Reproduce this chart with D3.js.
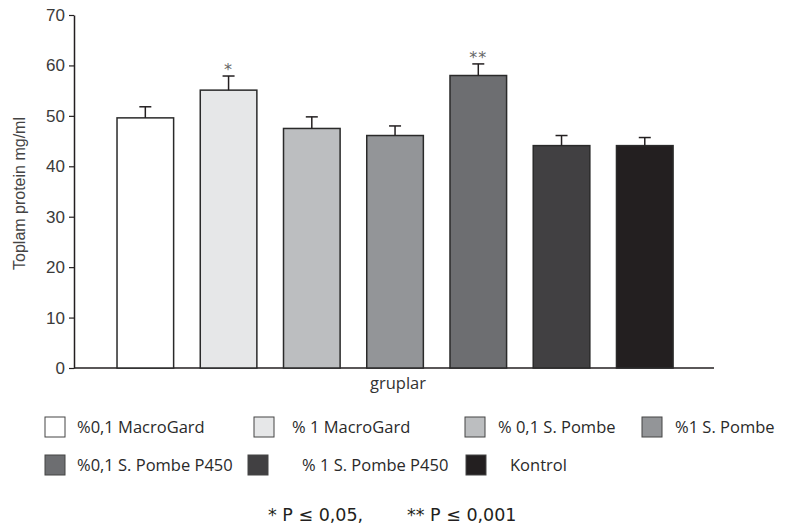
<!DOCTYPE html>
<html>
<head>
<meta charset="utf-8">
<script src="https://cdn.jsdelivr.net/npm/d3@7"></script>
<style>
  body { margin: 0; background: #fff; }
  svg { display: block; }
</style>
</head>
<body>
<div id="chart"></div>
<script>
// groups, values (mean total protein, mg/ml) and error (SEM)
const groups = ["%0,1 MacroGard", "% 1 MacroGard", "% 0,1 S. Pombe", "%1 S. Pombe",
                "%0,1 S. Pombe P450", "% 1 S. Pombe P450", "Kontrol"];
const values = [49.6, 55.1, 47.5, 46.1, 58.0, 44.1, 44.1];
const errors = [2.2, 2.8, 2.3, 1.9, 2.3, 2.0, 1.6];
const stars = ["", "*", "", "", "**", "", ""];
const colors = ["#ffffff", "#e6e7e8", "#bcbec0", "#939598", "#6d6e71", "#414042", "#231f20"];
const yTicks = [0, 10, 20, 30, 40, 50, 60, 70];

const width = 785, height = 526;
const svg = d3.select("#chart").append("svg")
    .attr("width", width)
    .attr("height", height);

const axisLeftX = 74, axisRightX = 714;
const y = d3.scaleLinear().domain([0, 70]).range([368, 15]);
const x = d3.scaleBand()
    .domain(groups)
    .range([103.7, 686.4])
    .paddingInner(0.32)
    .paddingOuter(0.16);

// Y axis
const yAxis = svg.append("g")
    .attr("transform", `translate(${axisLeftX},0)`)
    .call(d3.axisLeft(y).tickValues(yTicks).tickSize(5).tickPadding(4).tickSizeOuter(0));
yAxis.select(".domain").attr("stroke", "#231f20").attr("stroke-width", 1.5);
yAxis.selectAll(".tick line").attr("stroke", "#231f20").attr("stroke-width", 1.2);
yAxis.selectAll(".tick text")
    .attr("fill", "#3a3a3a")
    .style("font-family", "'Liberation Sans', Arial, sans-serif")
    .style("font-size", "17px");

// X axis baseline
svg.append("line")
    .attr("x1", axisLeftX).attr("x2", axisRightX)
    .attr("y1", y(0)).attr("y2", y(0))
    .attr("stroke", "#231f20").attr("stroke-width", 1.5);

// Axis titles
svg.append("text")
    .attr("transform", `translate(25,${(y(0) + y(70)) / 2 + 2}) rotate(-90)`)
    .attr("text-anchor", "middle")
    .attr("fill", "#444")
    .style("font-family", "'Liberation Sans', Arial, sans-serif")
    .style("font-size", "16px")
    .text("Toplam protein mg/ml");

svg.append("text")
    .attr("x", 398).attr("y", 389)
    .attr("text-anchor", "middle")
    .attr("fill", "#333")
    .style("font-family", "'Open Sans', sans-serif")
    .style("font-size", "16.5px")
    .text("gruplar");

// Bars
const data = groups.map((g, i) => ({ g, v: values[i], e: errors[i], s: stars[i], c: colors[i] }));

svg.selectAll("rect.bar")
    .data(data)
    .join("rect")
    .attr("class", "bar")
    .attr("x", d => x(d.g))
    .attr("y", d => y(d.v))
    .attr("width", x.bandwidth())
    .attr("height", d => y(0) - y(d.v))
    .attr("fill", d => d.c)
    .attr("stroke", "#2a2a2a")
    .attr("stroke-width", 1.5);

// Error bars (upper only)
const cx = d => x(d.g) + x.bandwidth() / 2;
svg.selectAll("line.err")
    .data(data)
    .join("line")
    .attr("class", "err")
    .attr("x1", cx).attr("x2", cx)
    .attr("y1", d => y(d.v)).attr("y2", d => y(d.v + d.e))
    .attr("stroke", "#231f20").attr("stroke-width", 1.5);
svg.selectAll("line.cap")
    .data(data)
    .join("line")
    .attr("class", "cap")
    .attr("x1", d => cx(d) - 6).attr("x2", d => cx(d) + 6)
    .attr("y1", d => y(d.v + d.e)).attr("y2", d => y(d.v + d.e))
    .attr("stroke", "#231f20").attr("stroke-width", 1.5);

// Significance stars
svg.selectAll("text.star")
    .data(data.filter(d => d.s))
    .join("text")
    .attr("class", "star")
    .attr("x", cx)
    .attr("y", d => y(d.v + d.e) - 1)
    .attr("text-anchor", "middle")
    .attr("fill", "#666")
    .attr("letter-spacing", "1px")
    .style("font-family", "'DejaVu Sans', sans-serif")
    .style("font-size", "16px")
    .text(d => d.s);

// Legend
const legendX = [45, 254, 465, 642, 45, 248, 466];
const legendRow = [0, 0, 0, 0, 1, 1, 1];
const legendTextX = [77, 292, 498, 675, 77, 302, 510];
const rowY = [417, 455];

const leg = svg.append("g");
leg.selectAll("rect")
    .data(data)
    .join("rect")
    .attr("x", (d, i) => legendX[i])
    .attr("y", (d, i) => rowY[legendRow[i]])
    .attr("width", 20).attr("height", 20)
    .attr("fill", d => d.c)
    .attr("stroke", "#444").attr("stroke-width", 1);
leg.selectAll("text")
    .data(data)
    .join("text")
    .attr("x", (d, i) => legendTextX[i])
    .attr("y", (d, i) => rowY[legendRow[i]] + 16)
    .attr("fill", "#2a2a2a")
    .style("font-family", "'Open Sans', sans-serif")
    .style("font-size", "16.5px")
    .text(d => d.g);

// Footnote
const foot = svg.append("g")
    .style("font-family", "'DejaVu Sans', sans-serif")
    .style("font-size", "17.5px")
    .attr("fill", "#231f20");
foot.append("text").attr("x", 268).attr("y", 521).text("* P ≤ 0,05,");
foot.append("text").attr("x", 407).attr("y", 521).text("** P ≤ 0,001");
</script>
</body>
</html>
